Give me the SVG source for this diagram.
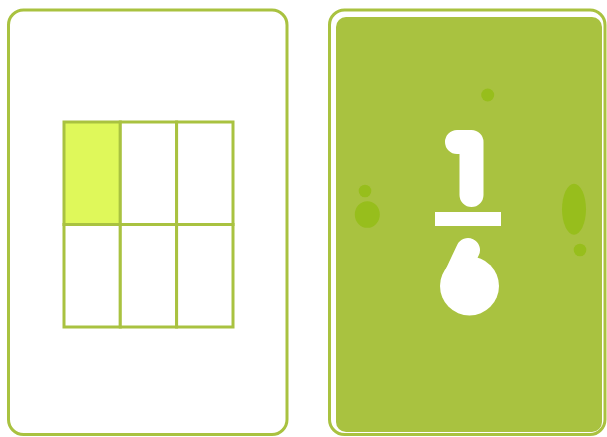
<svg xmlns="http://www.w3.org/2000/svg" width="607" height="437" viewBox="0 0 607 437">
<style>
.edge{fill:none;stroke:#a9c240;stroke-width:3}
.cell{fill:#ffffff;stroke:#a9c240;stroke-width:3}
.on{fill:#dff85a}
.dot{fill:#97be1c}
.glyph{fill:none;stroke:#ffffff;stroke-width:24;stroke-linecap:round;stroke-linejoin:round}
</style>
<rect width="607" height="437" fill="#ffffff"/>
<g id="card-grid">
<rect class="edge" x="8.5" y="10" width="278.5" height="424.5" rx="15"/>
<g id="grid">
<rect class="cell on" x="64" y="122" width="56.3" height="102.5"/>
<rect class="cell" x="120.3" y="122" width="56.3" height="102.5"/>
<rect class="cell" x="176.6" y="122" width="56.4" height="102.5"/>
<rect class="cell" x="64" y="224.5" width="56.3" height="102.5"/>
<rect class="cell" x="120.3" y="224.5" width="56.3" height="102.5"/>
<rect class="cell" x="176.6" y="224.5" width="56.4" height="102.5"/>
</g>
</g>
<g id="card-fraction">
<rect class="edge" x="329.5" y="10" width="275.5" height="424.5" rx="15"/>
<rect x="336" y="17" width="266" height="415" rx="10" fill="#a9c240"/>
<circle class="dot" cx="487.7" cy="95" r="6.5"/>
<circle class="dot" cx="365" cy="191" r="6.3"/>
<ellipse class="dot" cx="367.3" cy="214.5" rx="12.5" ry="13.3"/>
<ellipse class="dot" cx="574" cy="209.3" rx="12" ry="25.5"/>
<circle class="dot" cx="580" cy="250" r="6.3"/>
<path class="glyph" d="M457 142 H471.5 V195"/>
<rect x="435" y="212" width="66" height="14" fill="#ffffff"/>
<path class="glyph" d="M468 250 L453 282"/>
<circle cx="469.5" cy="286" r="29.5" fill="#ffffff"/>
</g>
</svg>
